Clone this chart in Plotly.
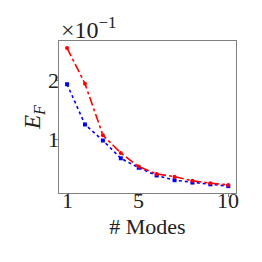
import plotly.graph_objects as go

modes = [1, 2, 3, 4, 5, 6, 7, 8, 9, 10]
red_vals = [2.54, 1.94, 1.07, 0.77, 0.54, 0.415, 0.37, 0.30, 0.26, 0.23]
blue_vals = [1.93, 1.25, 0.98, 0.68, 0.52, 0.39, 0.31, 0.27, 0.24, 0.21]
x_ticks = [1, 5, 10]
y_ticks = [1, 2]

fig = go.Figure()
fig.add_trace(go.Scatter(x=modes, y=blue_vals, mode="lines+markers",
                         line=dict(color="#0000ff", width=1.6, dash="dot"),
                         marker=dict(symbol="square", size=4, color="#0000ff")))
fig.add_trace(go.Scatter(x=modes, y=red_vals, mode="lines+markers",
                         line=dict(color="#ff0000", width=1.6, dash="dashdot"),
                         marker=dict(symbol="circle", size=4, color="#ff0000")))

FAM = "Liberation Serif"
TXT = "#222222"
tick_font = dict(family=FAM, size=22, color=TXT)

annotations = [dict(text="×10<sup>−1</sup>", xref="paper", yref="paper", x=0.0, y=1.0,
                    xanchor="left", yanchor="bottom", showarrow=False,
                    font=dict(family=FAM, size=24, color=TXT), yshift=-4)]
for t in x_ticks:
    annotations.append(dict(text=str(t), x=t, xref="x", y=0, yref="paper",
                            xanchor="center", yanchor="top", showarrow=False,
                            font=tick_font, yshift=7))
for t in y_ticks:
    annotations.append(dict(text=str(t), y=t, yref="y", x=0, xref="paper",
                            xanchor="right", yanchor="middle", showarrow=False,
                            font=tick_font, xshift=2))

fig.update_layout(
    width=254, height=254, showlegend=False,
    margin=dict(l=51, r=26, t=33, b=69),
    paper_bgcolor="white", plot_bgcolor="white", font=dict(family=FAM, size=22, color=TXT),
    xaxis=dict(range=[0.55, 10.43], tickvals=x_ticks, showticklabels=False,
               showgrid=False, zeroline=False, showline=True, linecolor="#808080",
               linewidth=1, mirror=True, ticks="outside", ticklen=3, tickcolor="#808080",
               automargin=False,
               title=dict(text="# Modes", font=dict(family=FAM, size=22), standoff=22)),
    yaxis=dict(range=[0.094, 2.66], tickvals=y_ticks, showticklabels=False,
               showgrid=False, zeroline=False, showline=True, linecolor="#808080",
               linewidth=1, mirror=True, ticks="outside", ticklen=3, tickcolor="#808080",
               automargin=False,
               title=dict(text="<i>E</i><sub><i>F</i></sub>", font=dict(family=FAM, size=23), standoff=7)),
    annotations=annotations,
)
fig.write_html("out.html")
